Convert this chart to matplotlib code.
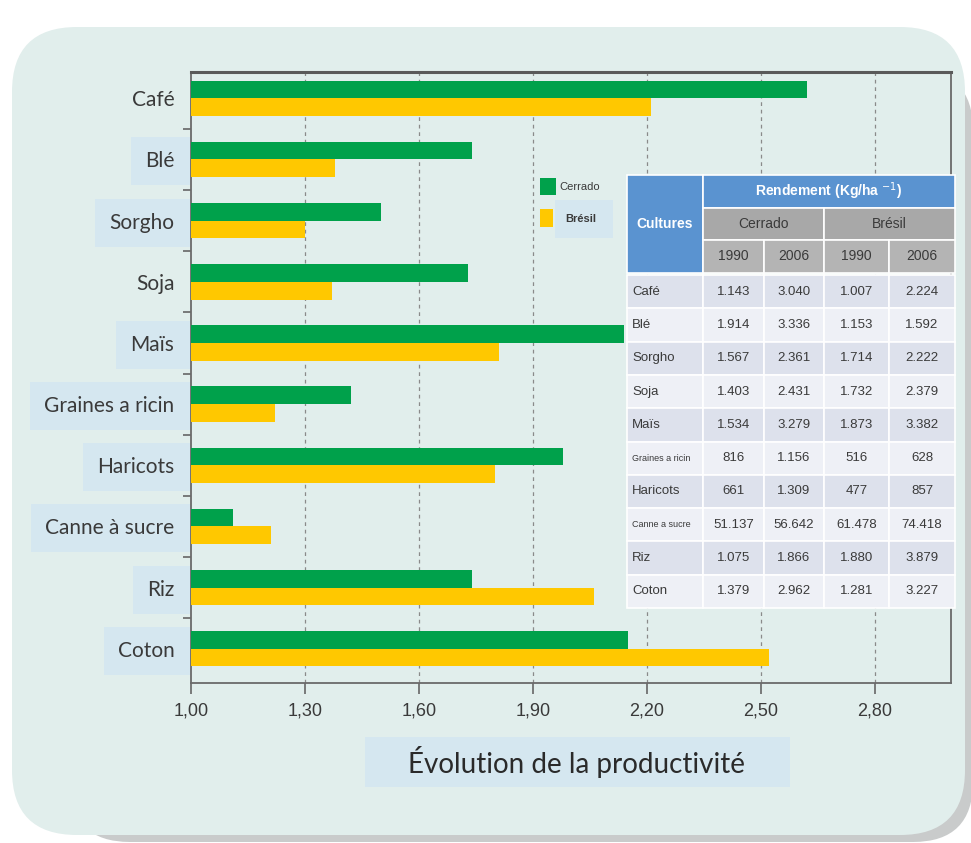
import matplotlib

matplotlib.use("Agg")
import matplotlib.pyplot as plt
import numpy as np
from matplotlib.patches import FancyBboxPatch, Rectangle

# productivity ratio 2006/1990
cultures = ["Café", "Blé", "Sorgho", "Soja", "Maïs", "Graines a ricin",
            "Haricots", "Canne à sucre", "Riz", "Coton"]
cerrado = [2.62, 1.74, 1.50, 1.73, 2.14, 1.42, 1.98, 1.11, 1.74, 2.15]
bresil = [2.21, 1.38, 1.30, 1.37, 1.81, 1.22, 1.80, 1.21, 2.06, 2.52]
xticks = [1.00, 1.30, 1.60, 1.90, 2.20, 2.50, 2.80]
xtick_labels = ["1,00", "1,30", "1,60", "1,90", "2,20", "2,50", "2,80"]
boxed = ["Blé", "Sorgho", "Maïs", "Graines a ricin", "Haricots", "Canne à sucre", "Riz", "Coton"]

# inset table (Kg/ha)
table_names = ["Café", "Blé", "Sorgho", "Soja", "Maïs", "Graines a ricin",
               "Haricots", "Canne a sucre", "Riz", "Coton"]
cerrado_1990 = ["1.143", "1.914", "1.567", "1.403", "1.534", "816", "661", "51.137", "1.075", "1.379"]
cerrado_2006 = ["3.040", "3.336", "2.361", "2.431", "3.279", "1.156", "1.309", "56.642", "1.866", "2.962"]
bresil_1990 = ["1.007", "1.153", "1.714", "1.732", "1.873", "516", "477", "61.478", "1.880", "1.281"]
bresil_2006 = ["2.224", "1.592", "2.222", "2.379", "3.382", "628", "857", "74.418", "3.879", "3.227"]

GREEN = "#00a14b"
YELLOW = "#ffc800"
PANEL = "#e1eeec"
LABEL_BOX = "#d5e7f0"
TEXT = "#3a3a3a"
NARROW = ["Liberation Sans Narrow", "Liberation Sans", "DejaVu Sans"]
W, H = 971, 843

fig = plt.figure(figsize=(W / 100, H / 100), dpi=100)
fig.patch.set_facecolor("white")

# background panel in pixel coords (y down)
bg = fig.add_axes([0, 0, 1, 1], zorder=-1)
bg.set_xlim(0, W)
bg.set_ylim(H, 0)
bg.axis("off")
bg.add_patch(FancyBboxPatch((70, 70), 903, 772, boxstyle="round,pad=0,rounding_size=60",
                            fc="#c9cbcb", ec="none"))
bg.add_patch(FancyBboxPatch((12, 27), 953, 808, boxstyle="round,pad=0,rounding_size=65",
                            fc=PANEL, ec="none"))

# main bar axes
x0, x1, y0, y1 = 191, 951, 72, 683
ax = fig.add_axes([x0 / W, 1 - y1 / H, (x1 - x0) / W, (y1 - y0) / H])
ax.set_facecolor("none")
pos = np.arange(len(cultures))
h = 0.29
ax.barh(pos - h / 2, cerrado, height=h, color=GREEN, zorder=3)
ax.barh(pos + h / 2, bresil, height=h, color=YELLOW, zorder=3)
ax.set_xlim(1.0, 3.0)
ax.set_ylim(9.56, -0.43)
ax.set_xticks(xticks)
ax.set_xticklabels(xtick_labels, family=NARROW, fontsize=13, color=TEXT)
ax.tick_params(axis="x", length=8, width=1.2, color="#666666", pad=6)
ax.set_yticks(pos)
ax.set_yticklabels(cultures, fontsize=15, color=TEXT, family=["Lato", "DejaVu Sans"])
ax.set_yticks(pos[:-1] + 0.5, minor=True)
ax.tick_params(axis="y", which="major", length=0, pad=12)
ax.tick_params(axis="y", which="minor", length=6, width=1.2, color="#666666")
for x in xticks[1:]:
    ax.axvline(x, color="#8a8a8a", lw=0.9, ls=(0, (3, 3)), zorder=1)
ax.spines["top"].set_linewidth(2.2)
ax.spines["top"].set_color("#5a5a5a")
for s in ("left", "right", "bottom"):
    ax.spines[s].set_color("#6a6a6a")
    ax.spines[s].set_linewidth(1.3)

# light boxes behind the category labels
fig.canvas.draw()
renderer = fig.canvas.get_renderer()
for lbl in ax.get_yticklabels():
    if lbl.get_text() not in boxed:
        continue
    ext = lbl.get_window_extent(renderer)
    cy = H - (ext.y0 + ext.y1) / 2
    bg.add_patch(Rectangle((ext.x0 - 14, cy - 24), x0 - (ext.x0 - 14), 48,
                           fc=LABEL_BOX, ec="none"))

# x axis title with its box
bg.add_patch(Rectangle((365, 737), 425, 50, fc=LABEL_BOX, ec="none"))
bg.text(577, 762, "Évolution de la productivité", fontsize=20, color="#2a2a2a",
        ha="center", va="center", family=["Lato", "DejaVu Sans"])

# overlay for legend and table
top = fig.add_axes([0, 0, 1, 1], zorder=5)
top.set_xlim(0, W)
top.set_ylim(H, 0)
top.axis("off")
top.patch.set_alpha(0)

top.add_patch(Rectangle((540, 178), 16, 17, fc=GREEN, ec="none"))
top.text(559, 187, "Cerrado", fontsize=8, color=TEXT, va="center", family=NARROW)
top.add_patch(Rectangle((555, 200), 58, 38, fc=LABEL_BOX, ec="none"))
top.add_patch(Rectangle((540, 209), 13, 18, fc=YELLOW, ec="none"))
top.text(565, 219, "Brésil", fontsize=8, color=TEXT, va="center", weight="bold", family=NARROW)

cols = [627, 703, 764, 824, 889, 955]
BLUE = "#5a93d0"
GRAY1 = "#a8a8a8"
GRAY2 = "#b4b4b4"


def cell(xa, ya, xb, yb, fc, txt="", color=TEXT, size=9.5, **kw):
    top.add_patch(Rectangle((xa, ya), xb - xa, yb - ya, fc=fc, ec="white", lw=1.2))
    if txt:
        top.text((xa + xb) / 2, (ya + yb) / 2, txt, ha="center", va="center",
                 fontsize=size, color=color, family=NARROW, **kw)


cell(cols[0], 175, cols[1], 273, BLUE, "Cultures", color="white", size=10, weight="bold")
cell(cols[1], 175, cols[5], 208, BLUE, "Rendement (Kg/ha $^{-1}$)", color="white", size=10, weight="bold")
cell(cols[1], 208, cols[3], 240, GRAY1, "Cerrado", size=10)
cell(cols[3], 208, cols[5], 240, GRAY1, "Brésil", size=10)
for k in range(4):
    cell(cols[k + 1], 240, cols[k + 2], 273, GRAY2, ["1990", "2006", "1990", "2006"][k], size=10)

row_h = (608 - 275) / len(table_names)
for i, name in enumerate(table_names):
    ya = 275 + i * row_h
    fc = "#dde1ec" if i % 2 == 0 else "#eef0f6"
    small = len(name) > 10
    top.add_patch(Rectangle((cols[0], ya), cols[1] - cols[0], row_h, fc=fc, ec="white", lw=1.2))
    top.text(cols[0] + 5, ya + row_h / 2, name, ha="left", va="center",
             fontsize=6.5 if small else 9.5, color=TEXT, family=NARROW)
    vals = [cerrado_1990[i], cerrado_2006[i], bresil_1990[i], bresil_2006[i]]
    for k, v in enumerate(vals):
        cell(cols[k + 1], ya, cols[k + 2], ya + row_h, fc, v, size=9.5)

fig.savefig("out.png", dpi=100)
